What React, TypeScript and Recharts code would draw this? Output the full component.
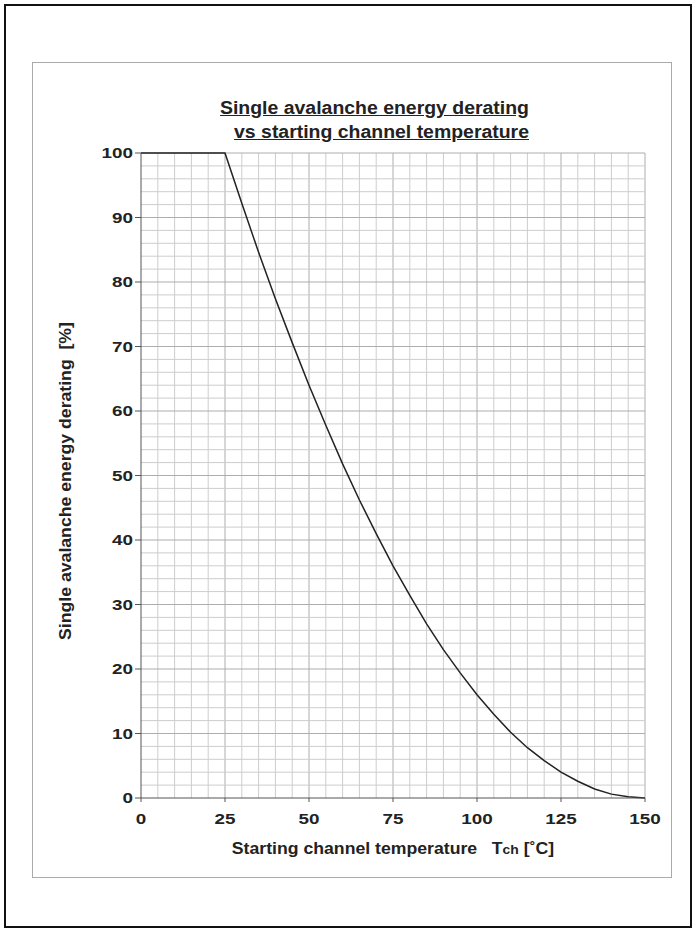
import React from 'react';
import { LineChart, Line, XAxis, YAxis, ReferenceLine } from 'recharts';

// values (temperature in °C, derating in %)
const temps = [0, 5, 10, 15, 20, 25, 30, 35, 40, 45, 50, 55, 60, 65, 70, 75, 80, 85, 90, 95, 100, 105, 110, 115, 120, 125, 130, 135, 140, 145, 150];
const derating = [100, 100, 100, 100, 100, 100, 92.2, 84.6, 77.4, 70.6, 64, 57.8, 51.8, 46.2, 41, 36, 31.4, 27, 23, 19.4, 16, 13, 10.2, 7.8, 5.8, 4, 2.6, 1.4, 0.6, 0.2, 0];

const xTicks = [0, 25, 50, 75, 100, 125, 150];
const yTicks = [0, 10, 20, 30, 40, 50, 60, 70, 80, 90, 100];
const gridX = [5, 10, 15, 20, 25, 30, 35, 40, 45, 50, 55, 60, 65, 70, 75, 80, 85, 90, 95, 100, 105, 110, 115, 120, 125, 130, 135, 140, 145, 150];
const gridY = [2, 4, 6, 8, 10, 12, 14, 16, 18, 20, 22, 24, 26, 28, 30, 32, 34, 36, 38, 40, 42, 44, 46, 48, 50, 52, 54, 56, 58, 60, 62, 64, 66, 68, 70, 72, 74, 76, 78, 80, 82, 84, 86, 88, 90, 92, 94, 96, 98, 100];

const data = temps.map((t, i) => ({ t, v: derating[i] }));

const font = '"Liberation Sans", Arial, sans-serif';

// the reference lettering is drawn wider than Arial, so stretch it a little
const XTick = ({ x, y, payload }: any) => (
  <text
    transform={`translate(${x},${y + 20}) scale(1.3,1)`}
    textAnchor="middle"
    fill="#222"
    fontSize={14.5}
    fontWeight={700}
    fontFamily={font}
  >
    {payload.value}
  </text>
);

const YTick = ({ x, y, payload }: any) => (
  <text
    transform={`translate(${x},${y + 5}) scale(1.3,1)`}
    textAnchor="end"
    fill="#222"
    fontSize={14.5}
    fontWeight={700}
    fontFamily={font}
  >
    {payload.value}
  </text>
);

export default function App() {
  return (
    <div style={{ position: 'absolute', left: 0, top: 0, width: 697, height: 931, background: '#fff', fontFamily: font }}>
      <div style={{ position: 'absolute', left: 4, top: 4, width: 684, height: 920, border: '2px solid #111' }} />
      <div style={{ position: 'absolute', left: 32, top: 62, width: 638, height: 814, border: '1.5px solid #aaa' }} />

      <div
        style={{
          position: 'absolute',
          left: 129,
          top: 96,
          width: 400,
          textAlign: 'right',
          fontSize: 18,
          fontWeight: 700,
          lineHeight: '24px',
          color: '#222',
          textDecoration: 'underline',
          transform: 'scaleX(1.08)',
          transformOrigin: '100% 0',
        }}
      >
        <div>Single avalanche energy derating</div>
        <div>vs starting channel temperature</div>
      </div>

      <div style={{ position: 'absolute', left: 0, top: 0 }}>
        <LineChart width={697} height={931} data={data} margin={{ top: 153, right: 52, bottom: 103, left: 101 }}>
          {gridX.map((x) => (
            <ReferenceLine key={'x' + x} x={x} stroke={x % 25 === 0 ? '#adadad' : '#cdcdcd'} strokeWidth={1} />
          ))}
          {gridY.map((y) => (
            <ReferenceLine key={'y' + y} y={y} stroke={y % 10 === 0 ? '#adadad' : '#cdcdcd'} strokeWidth={1} />
          ))}
          <XAxis
            type="number"
            dataKey="t"
            domain={[0, 150]}
            ticks={xTicks}
            height={30}
            tickSize={4}
            stroke="#555"
            tick={<XTick />}
            interval={0}
          />
          <YAxis
            type="number"
            domain={[0, 100]}
            ticks={yTicks}
            width={40}
            tickSize={6}
            stroke="#555"
            tick={<YTick />}
            interval={0}
          />
          <Line type="linear" dataKey="v" stroke="#222" strokeWidth={1.5} dot={false} isAnimationActive={false} />
        </LineChart>
      </div>

      <div
        style={{
          position: 'absolute',
          left: 393 - 250,
          top: 839,
          width: 500,
          textAlign: 'center',
          fontSize: 16.5,
          fontWeight: 700,
          color: '#222',
          whiteSpace: 'pre',
          transform: 'scaleX(1.07)',
        }}
      >
        {'Starting channel temperature   T'}
        <span style={{ fontSize: 13 }}>ch</span>
        {' [˚C]'}
      </div>

      <div
        style={{
          position: 'absolute',
          left: 65 - 250,
          top: 481 - 10,
          width: 500,
          height: 20,
          lineHeight: '20px',
          textAlign: 'center',
          fontSize: 16.5,
          fontWeight: 700,
          color: '#222',
          transform: 'rotate(-90deg) scaleX(1.07)',
          whiteSpace: 'pre',
        }}
      >
        {'Single avalanche energy derating  [%]'}
      </div>
    </div>
  );
}
